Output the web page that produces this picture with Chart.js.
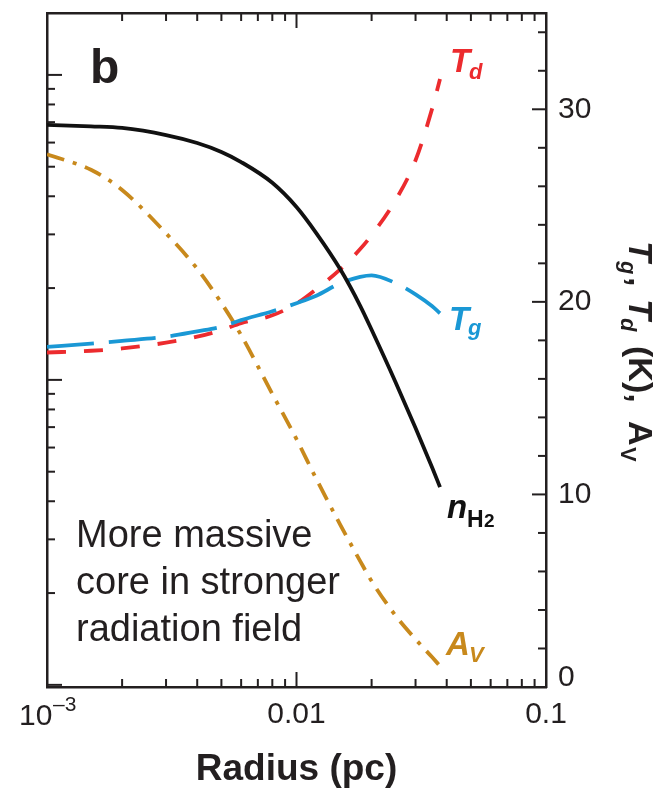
<!DOCTYPE html>
<html>
<head>
<meta charset="utf-8">
<script src="https://cdn.jsdelivr.net/npm/chart.js@4.4.0/dist/chart.umd.min.js"></script>
<style>
  html, body { margin: 0; padding: 0; background: #fff; }
  canvas { display: block; }
</style>
</head>
<body>
<canvas id="chart" width="656" height="789"></canvas>
<script>
const INK = '#231f20';
const FONT = "'Liberation Sans', Arial, Helvetica, sans-serif";
const Colors = {
    nH2: '#111111',
    td: '#ec2b2e',
    tg: '#1a98d5',
    av: '#c8891c'
};

// radius grid (pc) shared by all four profiles
const radiusPc = [0.001, 0.0015, 0.002, 0.003, 0.004, 0.005, 0.006, 0.008, 0.01,
                  0.012, 0.015, 0.018, 0.02, 0.025, 0.03, 0.035, 0.0376];
// H2 density, left (unlabelled) log axis
const densityH2 = [6.86e4, 6.78e4, 6.70e4, 6.35e4, 5.98e4, 5.59e4, 5.18e4, 4.43e4, 3.69e4,
                   3.03e4, 2.30e4, 1.75e4, 1.46e4, 9.79e3, 6.95e3, 5.15e3, 4.45e3];
// gas temperature (K)
const gasTemp = [17.66, 17.83, 17.97, 18.19, 18.47, 18.71, 19.05, 19.51, 19.93,
                 20.32, 20.97, 21.30, 21.38, 20.97, 20.39, 19.77, 19.41];
// dust temperature (K)
const dustTemp = [17.37, 17.46, 17.58, 17.88, 18.19, 18.53, 18.89, 19.30, 19.91,
                  20.66, 21.70, 22.74, 23.46, 25.30, 27.35, 30.05, 31.57];
// visual extinction (mag)
const extinctionAV = [27.66, 26.86, 25.81, 23.56, 21.72, 19.94, 18.27, 15.22, 12.87,
                      10.81, 8.41, 6.54, 5.50, 3.69, 2.48, 1.54, 1.09];

const radiusTicks = [0.001, 0.01, 0.1];
const radiusTickLabels = ['', '0.01', '0.1'];   // 10^-3 is drawn with a real superscript
const tempTicks = [0, 10, 20, 30];
const tempTickLabels = ['', '10', '20', '30'];  // 0 sits a little above the corner

const toPoints = (ys) => radiusPc.map((r, i) => ({ x: r, y: ys[i] }));

// pin each axis box so the plot area lands where the reference has it
const fixBox = (size) => (s) => {
    if (s.isHorizontal()) s.height = size; else s.width = size;
    s.paddingTop = 0; s.paddingBottom = 0; s.paddingLeft = 0; s.paddingRight = 0;
};

// inward tick marks on all four sides
const tickMarks = {
    id: 'tickMarks',
    afterDraw: (chart) => {
        const { ctx, chartArea: a, scales } = chart;
        ctx.save();
        ctx.strokeStyle = INK;
        ctx.lineWidth = 2;
        const line = (x1, y1, x2, y2) => {
            ctx.beginPath(); ctx.moveTo(x1, y1); ctx.lineTo(x2, y2); ctx.stroke();
        };
        // radius (bottom + top)
        for (let d = -3; d <= -2; d++) {
            for (let k = 1; k <= 9; k++) {
                const px = scales.x.getPixelForValue(k * Math.pow(10, d));
                const len = k === 1 ? 15 : 8;
                line(px, a.bottom, px, a.bottom - len);
                line(px, a.top, px, a.top + len);
            }
        }
        // temperature (right)
        for (let v = 0; v <= 34; v += 2) {
            const py = scales.y.getPixelForValue(v);
            line(a.right, py, a.right - (v % 10 === 0 ? 14 : 8), py);
        }
        // density (left)
        const dens = scales.yDens;
        for (let d = 2; d <= 5; d++) {
            for (let k = 1; k <= 9; k++) {
                const v = k * Math.pow(10, d);
                if (v < dens.min || v > dens.max) continue;
                const py = dens.getPixelForValue(v);
                line(a.left, py, a.left + (k === 1 ? 15 : 8), py);
            }
        }
        ctx.restore();
    }
};

// panel letter, note, curve labels and the right axis title
const annotations = {
    id: 'annotations',
    afterDraw: (chart) => {
        const { ctx, chartArea: a, scales } = chart;
        ctx.save();
        ctx.textBaseline = 'alphabetic';
        ctx.textAlign = 'left';
        const put = (text, x, y, font, color) => {
            ctx.font = font + ' ' + FONT;
            ctx.fillStyle = color;
            ctx.fillText(text, x, y);
        };

        // odd tick labels
        const x0 = scales.x.getPixelForValue(0.001);
        put('10', x0 - 28, a.bottom + 38, '30px', INK);
        put('\u20133', x0 + 6, a.bottom + 24, '21px', INK);
        put('0', a.right + 12, a.bottom - 1, '30px', INK);

        put('b', 90, 83, 'bold 48px', INK);

        put('More massive', 76, 547, '38px', INK);
        put('core in stronger', 76, 594, '38px', INK);
        put('radiation field', 76, 641, '38px', INK);

        put('T', 450, 72, 'italic bold 33px', Colors.td);
        put('d', 469, 79, 'italic bold 22px', Colors.td);

        put('T', 449, 330, 'italic bold 33px', Colors.tg);
        put('g', 468, 335, 'italic bold 22px', Colors.tg);

        put('n', 447, 518, 'italic bold 33px', Colors.nH2);
        put('H', 467, 527, 'bold 23px', Colors.nH2);
        put('2', 484, 527, 'bold 19px', Colors.nH2);

        put('A', 446, 655, 'italic bold 33px', Colors.av);
        put('V', 469, 662, 'italic bold 22px', Colors.av);

        // rotated title, reading top to bottom
        ctx.translate(629, 0);
        ctx.rotate(Math.PI / 2);
        put('T', 241, 0, 'italic bold 34px', INK);
        put('g', 261, 8, 'italic bold 22px', INK);
        put(',', 277, 0, 'bold 34px', INK);
        put('T', 299, 0, 'italic bold 34px', INK);
        put('d', 318, 8, 'italic bold 22px', INK);
        put('(K),', 346, 0, 'bold 34px', INK);
        put('A', 421, 0, 'bold 34px', INK);
        put('V', 447, 8, 'bold 22px', INK);
        ctx.restore();
    }
};

const lineStyle = (color, dash) => ({
    borderColor: color,
    borderWidth: 3.8,
    borderDash: dash,
    borderCapStyle: 'butt',
    pointRadius: 0,
    fill: false,
    cubicInterpolationMode: 'monotone'
});

new Chart(document.getElementById('chart').getContext('2d'), {
    type: 'line',
    data: {
        datasets: [
            { label: 'nH2', data: toPoints(densityH2), yAxisID: 'yDens', ...lineStyle(Colors.nH2, []) },
            { label: 'Tg', data: toPoints(gasTemp), yAxisID: 'y', ...lineStyle(Colors.tg, [47, 15]) },
            { label: 'Td', data: toPoints(dustTemp), yAxisID: 'y', ...lineStyle(Colors.td, [19, 18]) },
            { label: 'AV', data: toPoints(extinctionAV), yAxisID: 'y', ...lineStyle(Colors.av, [18, 9, 4, 9]) }
        ]
    },
    options: {
        responsive: false,
        animation: false,
        devicePixelRatio: 1,
        layout: { padding: 0 },
        plugins: {
            legend: { display: false },
            tooltip: { enabled: false }
        },
        scales: {
            x: {
                type: 'logarithmic',
                position: 'bottom',
                min: 0.001,
                max: 0.1,
                grid: { display: false, drawTicks: false },
                border: { display: true, color: INK, width: 2.5 },
                afterBuildTicks: (s) => { s.ticks = radiusTicks.map(v => ({ value: v })); },
                afterFit: fixBox(102),
                ticks: {
                    autoSkip: false,
                    maxRotation: 0,
                    padding: 10,
                    color: INK,
                    font: { family: FONT, size: 30 },
                    callback: (v) => radiusTickLabels[radiusTicks.indexOf(v)]
                },
                title: {
                    display: true,
                    text: 'Radius (pc)',
                    color: INK,
                    font: { family: FONT, size: 37, weight: 'bold', lineHeight: 1 },
                    padding: { top: 0, bottom: 1 }
                }
            },
            xTop: {
                type: 'logarithmic',
                position: 'top',
                min: 0.001,
                max: 0.1,
                grid: { display: false, drawTicks: false },
                border: { display: true, color: INK, width: 2.5 },
                ticks: { display: false },
                afterFit: fixBox(13)
            },
            y: {
                type: 'linear',
                position: 'right',
                min: 0,
                max: 35,
                grid: { display: false, drawTicks: false },
                border: { display: true, color: INK, width: 2.5 },
                afterBuildTicks: (s) => { s.ticks = tempTicks.map(v => ({ value: v })); },
                afterFit: fixBox(110),
                ticks: {
                    padding: 12,
                    color: INK,
                    font: { family: FONT, size: 30 },
                    callback: (v) => tempTickLabels[tempTicks.indexOf(v)]
                }
            },
            yDens: {
                type: 'logarithmic',
                position: 'left',
                min: Math.pow(10, 2.993),
                max: Math.pow(10, 5.203),
                grid: { display: false, drawTicks: false },
                border: { display: true, color: INK, width: 2.5 },
                ticks: { display: false },
                afterFit: fixBox(47)
            }
        }
    },
    plugins: [tickMarks, annotations]
});
</script>
</body>
</html>
